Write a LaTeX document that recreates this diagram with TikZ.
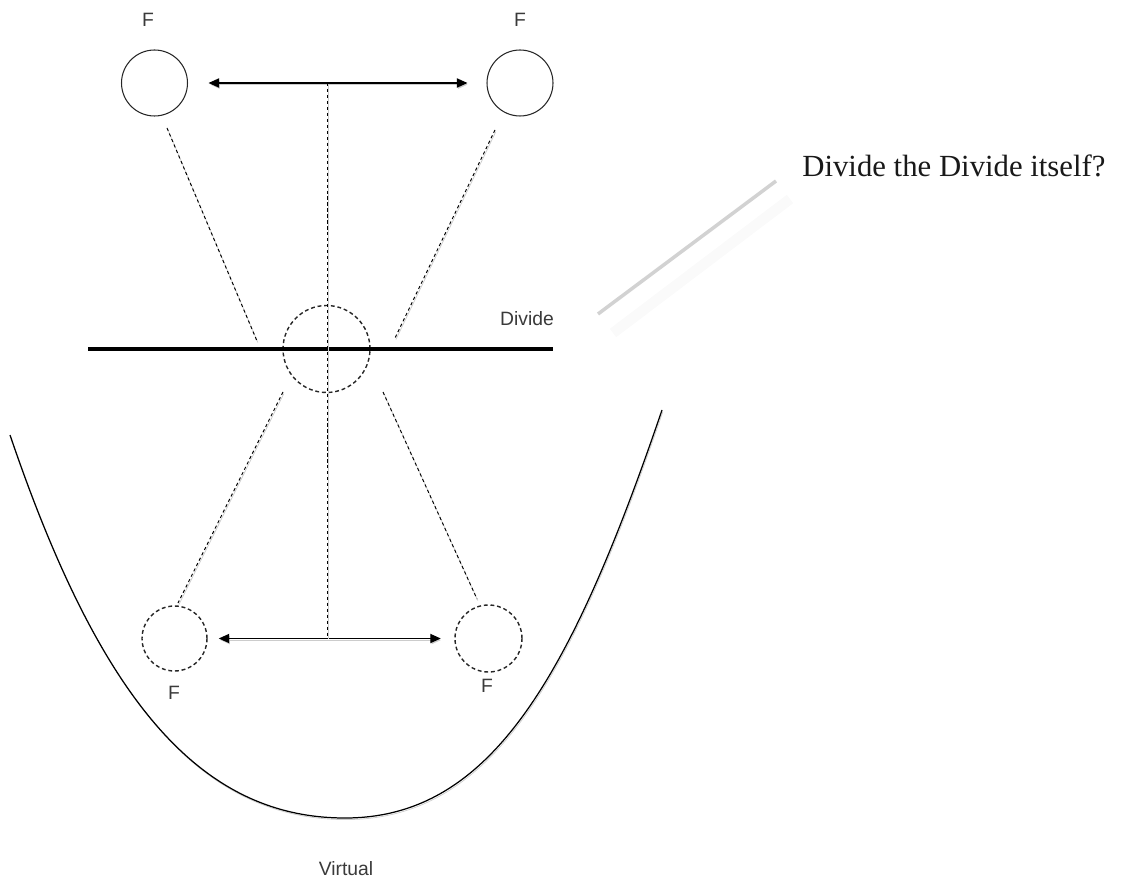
\documentclass[tikz,border=0pt]{standalone}
\usepackage{fontspec}
\setmainfont{Liberation Sans}
\newfontfamily\quotefont{Liberation Serif}
\usetikzlibrary{arrows.meta}
\definecolor{labelgray}{HTML}{3A3A3A}
\definecolor{callgray}{HTML}{D2D2D2}
\tikzset{
	shadowed/.style={
			preaction={
					draw=black!20,
					transform canvas={shift={(0.5pt,-0.9pt)}}
				}
		},
	fieldnode/.style={
			circle,
			draw=black!85,
			line width=0.6pt,
			minimum size=1.32cm,
			inner sep=0pt
		},
	ghostnode/.style={
			fieldnode,
			line width=0.8pt,
			dash pattern=on 2.2pt off 1.6pt
		},
	flabel/.style={
			font=\fontsize{11}{13}\selectfont,
			text=labelgray,
			inner sep=0pt
		}
}
\tikzset{
	linkarrow/.style={
			{Triangle[length=6pt,width=5.2pt]}-{Triangle[length=6pt,width=5.2pt]},
			line width=0.8pt,
			shadowed
		},
	guideline/.style={
			line width=0.55pt,
			dash pattern=on 1.8pt off 1.6pt,
			shadowed
		},
	dividebar/.style={
			line width=2.4pt
		},
	bowl/.style={
			line width=0.7pt,
			shadowed
		},
	qtext/.style={
			font=\quotefont\fontsize{17.5}{21}\selectfont,
			text=black!90,
			inner sep=0pt
		}
}

\begin{document}
\begin{tikzpicture}[x=0.02cm, y=-0.02cm]
\useasboundingbox (0,0) rectangle (1135,881);

\node[fieldnode] (f1) at (154.5,83) {};
\node[fieldnode] (f2) at (520,83) {};
\node[ghostnode, minimum size=1.74cm] (c) at (326.5,349) {};
\node[ghostnode, minimum size=1.3cm] (f3) at (174.5,638.5) {};
\node[ghostnode, minimum size=1.34cm] (f4) at (488.5,638.5) {};

\node[flabel] (l1) at (148,20) {F};
\node[flabel] (l2) at (520,20) {F};
\node[flabel] (l3) at (174,693) {F};
\node[flabel] (l4) at (487,686) {F};
\node[flabel] (ldiv) at (527,319) {Divide};
\node[flabel] (lvir) at (346,869) {Virtual};

\coordinate (d1) at (88,349);
\coordinate (d2) at (553,349);
\draw[dividebar] (d1) -- (d2);

\draw[linkarrow, shorten <=0.41cm, shorten >=0.38cm] (f1) -- (f2);
\draw[linkarrow, shorten <=0.22cm, shorten >=0.27cm] (f3) -- (f4);

\coordinate (t0) at (327,83);
\coordinate (b0) at (327,637);
\draw[guideline] (t0) -- (b0);

\coordinate (a1) at (167,128);
\coordinate (a2) at (257,341);
\coordinate (a3) at (495,130);
\coordinate (a4) at (395,338);
\coordinate (a5) at (283,392);
\coordinate (a6) at (178,603);
\coordinate (a7) at (383,392);
\coordinate (a8) at (477,599);
\draw[guideline] (a1) -- (a2);
\draw[guideline] (a3) -- (a4);
\draw[guideline] (a5) -- (a6);
\draw[guideline] (a7) -- (a8);

\coordinate (v0) at (10,435);
\coordinate (v1) at (345,818);
\coordinate (v2) at (662,410);
\draw[bowl] (v0) .. controls (100,700) and (200,818) .. (v1)
            .. controls (490,818) and (570,680) .. (v2);

\coordinate (q0) at (598,314);
\coordinate (q1) at (776,181);
\coordinate (q2) at (613,333);
\coordinate (q3) at (790,199);
\draw[black!2, line width=6pt] (q2) -- (q3);
\draw[callgray, line width=2pt] (q0) -- (q1);
\node[qtext, anchor=base west] (q) at (802,177) {Divide the Divide itself?};

\end{tikzpicture}
\end{document}
